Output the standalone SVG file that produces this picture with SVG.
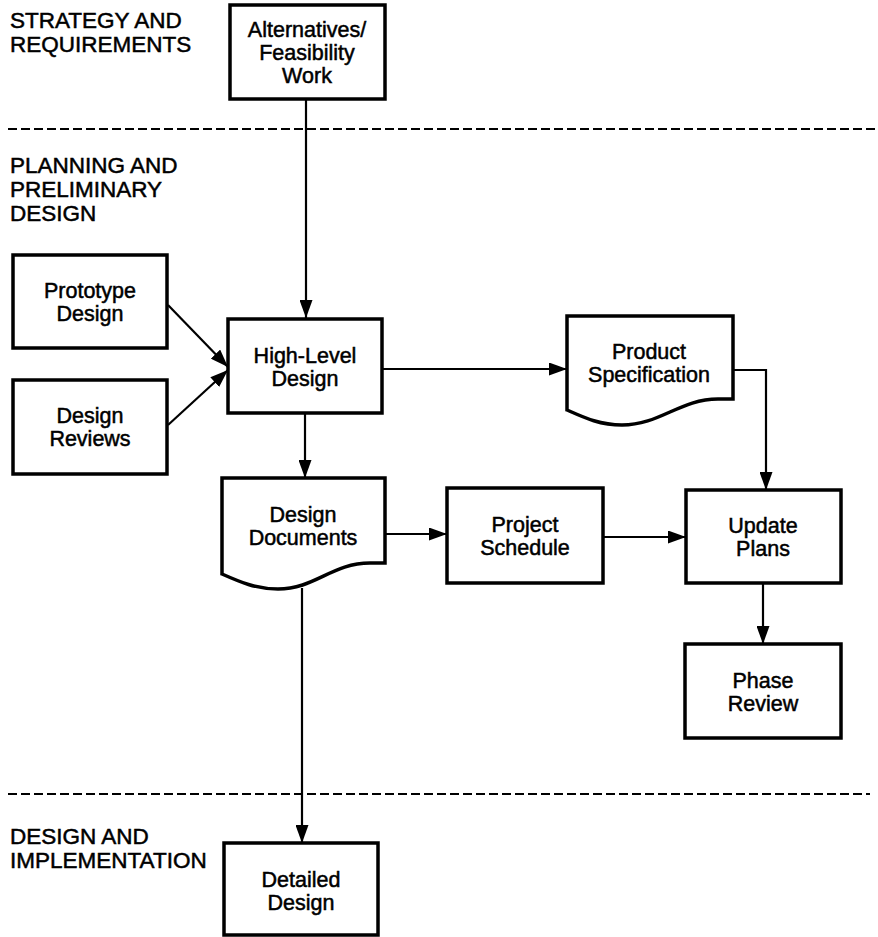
<svg xmlns="http://www.w3.org/2000/svg" width="878" height="937" viewBox="0 0 878 937">
<defs>
<marker id="ah" markerUnits="userSpaceOnUse" markerWidth="19" markerHeight="13" refX="18" refY="6.5" orient="auto">
<path d="M0,0 L18,6.5 L0,13 z" fill="#000"/>
</marker>
<style>
.box{fill:#fff;stroke:#000;stroke-width:3.5;stroke-linejoin:miter}
.t{font-family:"Liberation Sans",Arial,sans-serif;font-size:21.5px;fill:#000;stroke:#000;stroke-width:0.5;text-anchor:middle}
.sec{font-family:"Liberation Sans",Arial,sans-serif;font-size:22.5px;fill:#000;stroke:#000;stroke-width:0.5}
.c{fill:none;stroke:#000;stroke-width:2.2}
.dash{fill:none;stroke:#000;stroke-width:2.2;stroke-dasharray:9 4}
</style>
</defs>
<rect width="878" height="937" fill="#fff"/>

<g id="sections">
<text class="sec" x="10" y="28">STRATEGY AND</text>
<text class="sec" x="10" y="52">REQUIREMENTS</text>
<text class="sec" x="10" y="173">PLANNING AND</text>
<text class="sec" x="10" y="197">PRELIMINARY</text>
<text class="sec" x="10" y="221">DESIGN</text>
<text class="sec" x="10" y="844">DESIGN AND</text>
<text class="sec" x="10" y="868">IMPLEMENTATION</text>
<line class="dash" x1="8" y1="129" x2="878" y2="129"/>
<line class="dash" x1="8" y1="794" x2="870" y2="794"/>
</g>

<g id="connectors">
<line class="c" x1="306" y1="99" x2="306" y2="318" marker-end="url(#ah)"/>
<line class="c" x1="168" y1="305" x2="228" y2="367" marker-end="url(#ah)"/>
<line class="c" x1="168" y1="425" x2="228" y2="370" marker-end="url(#ah)"/>
<line class="c" x1="382" y1="369" x2="567" y2="369" marker-end="url(#ah)"/>
<polyline class="c" points="733,370 766,370 766,490" marker-end="url(#ah)"/>
<line class="c" x1="305" y1="413" x2="305" y2="478" marker-end="url(#ah)"/>
<line class="c" x1="385" y1="534" x2="447" y2="534" marker-end="url(#ah)"/>
<line class="c" x1="603" y1="537" x2="686" y2="537" marker-end="url(#ah)"/>
<line class="c" x1="763" y1="583" x2="763" y2="644" marker-end="url(#ah)"/>
<line class="c" x1="302" y1="588" x2="302" y2="843" marker-end="url(#ah)"/>
</g>

<g id="alternatives">
<rect class="box" x="230" y="5" width="155" height="94"/>
<text class="t" x="307" y="37">Alternatives/</text>
<text class="t" x="307" y="60">Feasibility</text>
<text class="t" x="307" y="83">Work</text>
</g>

<g id="prototype">
<rect class="box" x="13" y="255" width="154" height="93"/>
<text class="t" x="90" y="298">Prototype</text>
<text class="t" x="90" y="321">Design</text>
</g>

<g id="reviews">
<rect class="box" x="13" y="380" width="154" height="94"/>
<text class="t" x="90" y="423">Design</text>
<text class="t" x="90" y="446">Reviews</text>
</g>

<g id="highlevel">
<rect class="box" x="228" y="319" width="154" height="94"/>
<text class="t" x="305" y="363">High-Level</text>
<text class="t" x="305" y="386">Design</text>
</g>

<g id="productspec">
<path class="box" d="M567,316 H733 V399 H718 C680,399 660,425 622,425 C600,425 585,418 567,410 Z"/>
<text class="t" x="649" y="359">Product</text>
<text class="t" x="649" y="382">Specification</text>
</g>

<g id="designdocs">
<path class="box" d="M222,478 H385 V563 H370 C332,563 315,589 278,589 C256,589 240,582 222,574 Z"/>
<text class="t" x="303" y="522">Design</text>
<text class="t" x="303" y="545">Documents</text>
</g>

<g id="schedule">
<rect class="box" x="447" y="488" width="156" height="95"/>
<text class="t" x="525" y="532">Project</text>
<text class="t" x="525" y="555">Schedule</text>
</g>

<g id="update">
<rect class="box" x="686" y="490" width="155" height="93"/>
<text class="t" x="763" y="533">Update</text>
<text class="t" x="763" y="556">Plans</text>
</g>

<g id="phase">
<rect class="box" x="685" y="644" width="156" height="94"/>
<text class="t" x="763" y="688">Phase</text>
<text class="t" x="763" y="711">Review</text>
</g>

<g id="detailed">
<rect class="box" x="224" y="843" width="154" height="92"/>
<text class="t" x="301" y="887">Detailed</text>
<text class="t" x="301" y="910">Design</text>
</g>
</svg>
